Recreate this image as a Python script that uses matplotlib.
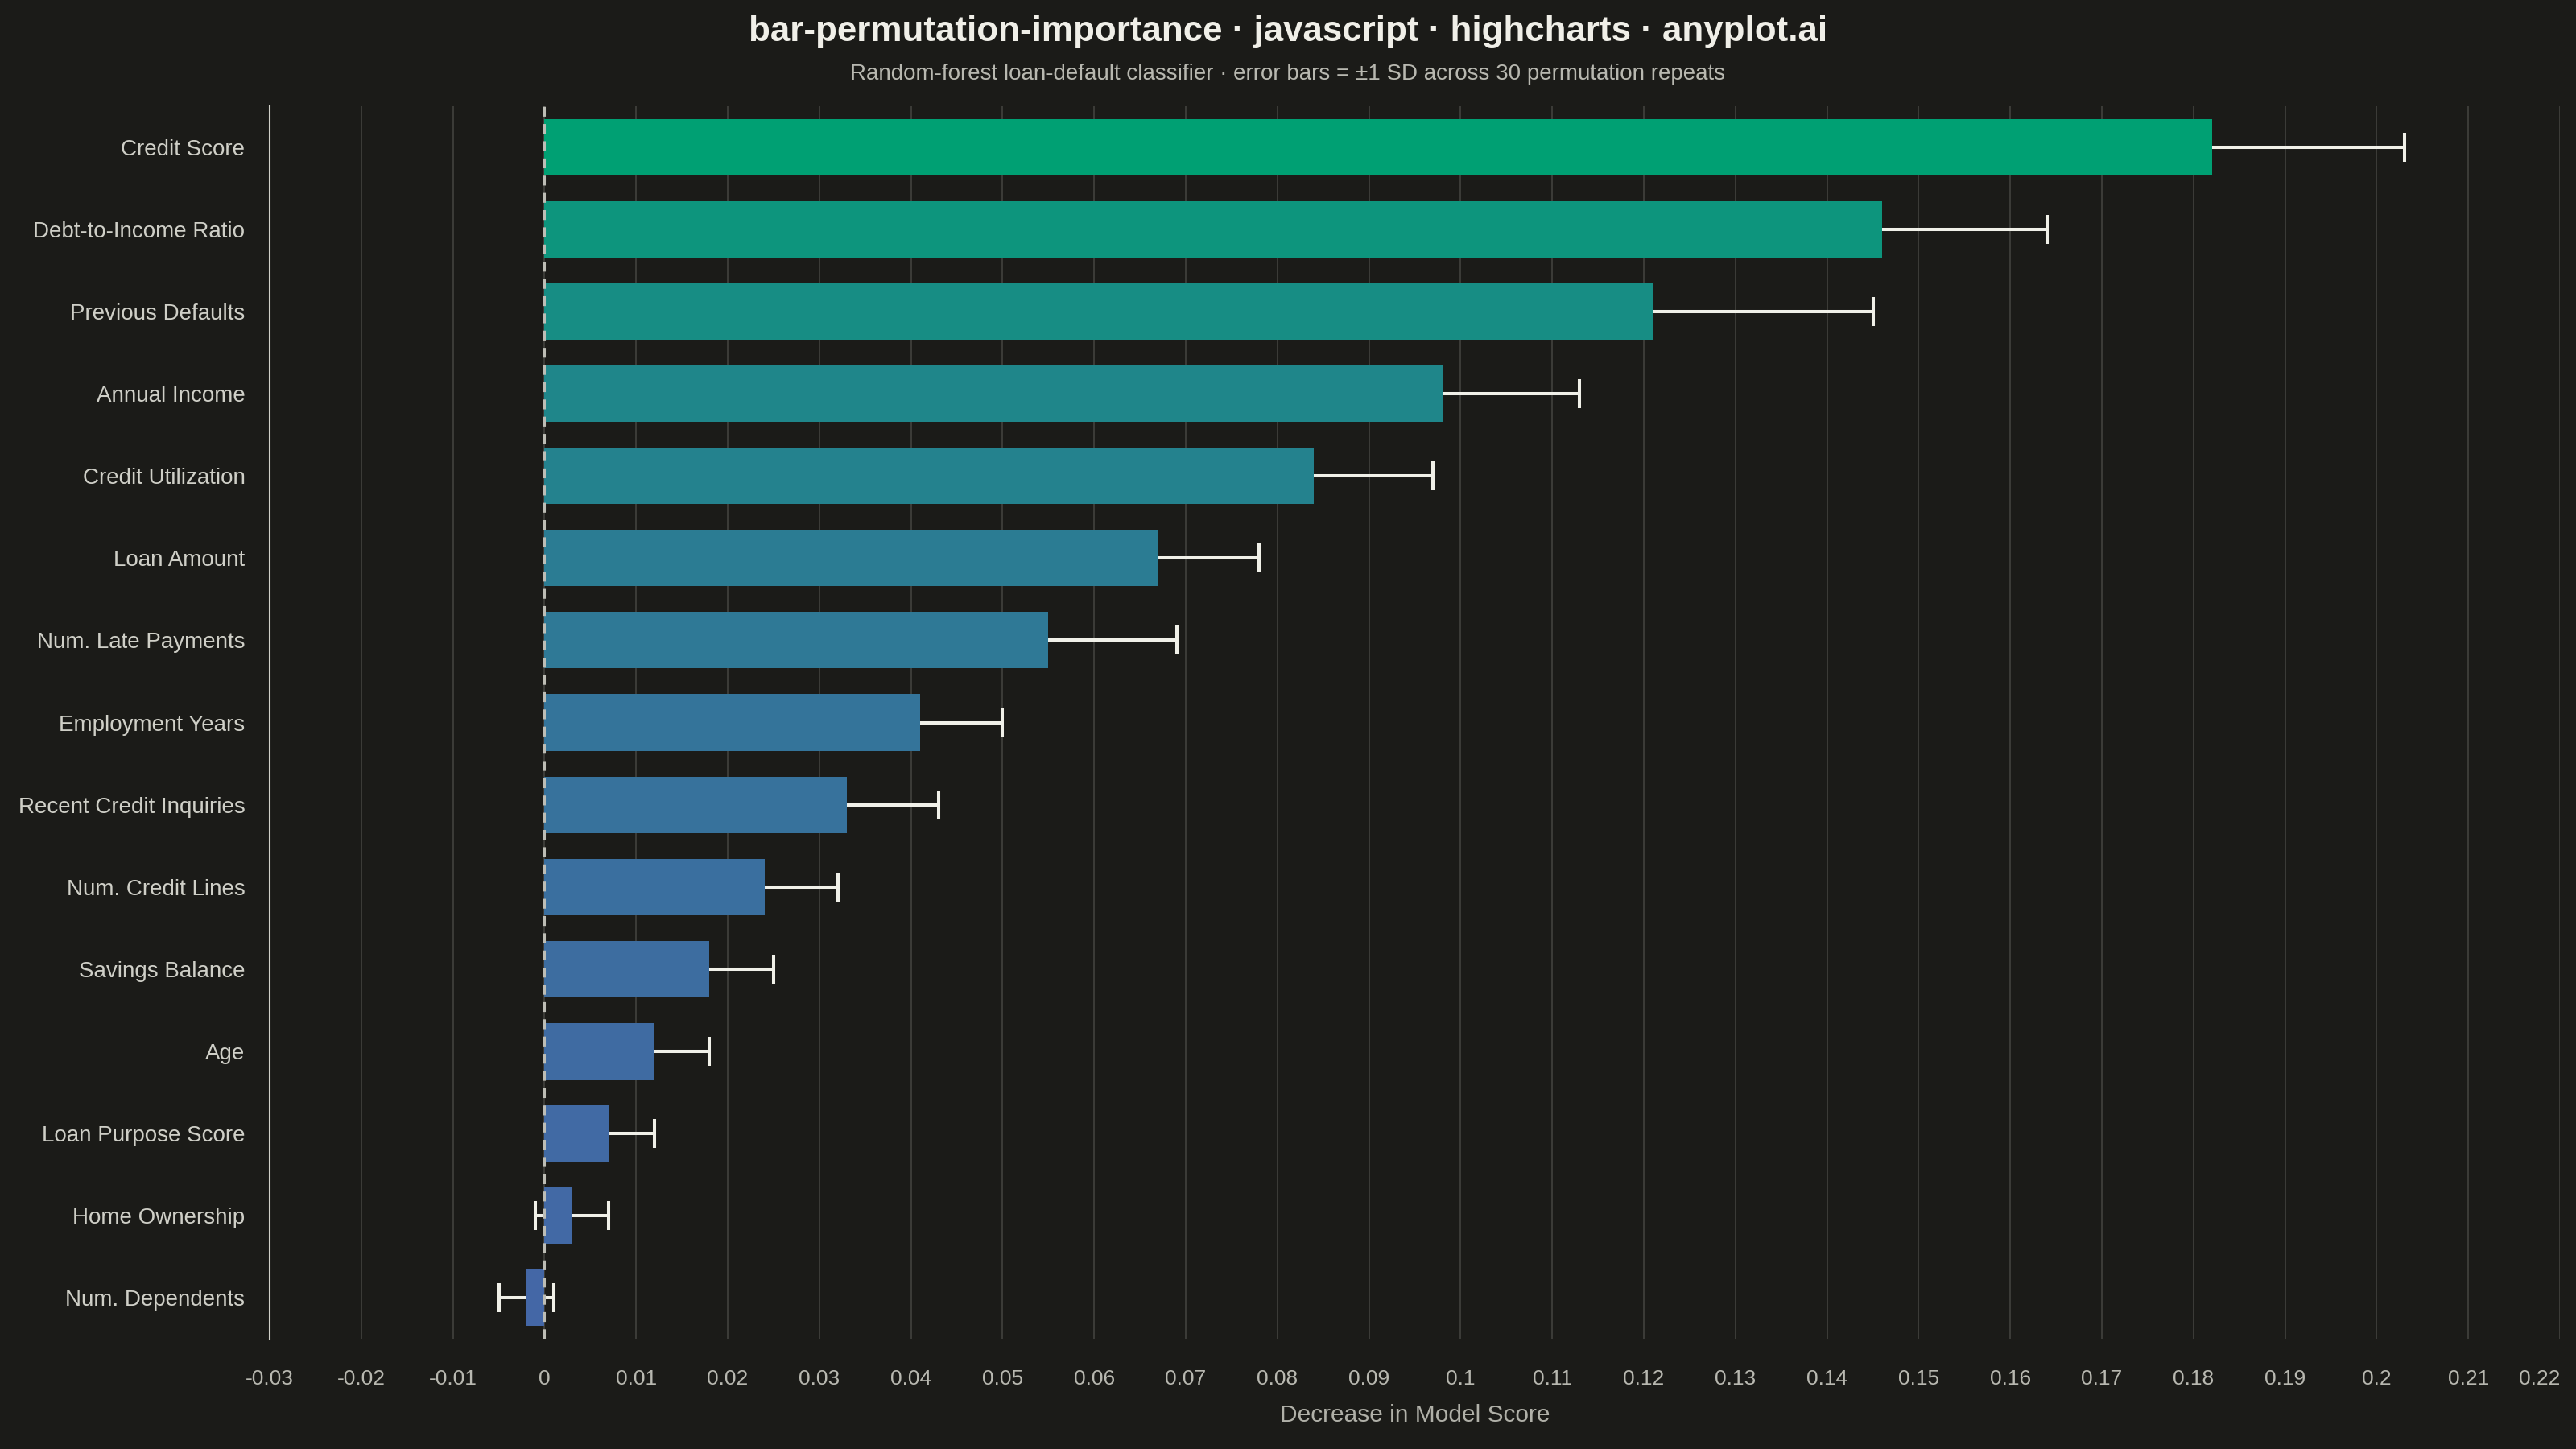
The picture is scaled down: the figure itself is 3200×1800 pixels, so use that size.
import matplotlib.pyplot as plt
import numpy as np

features = ['Credit Score', 'Debt-to-Income Ratio', 'Previous Defaults', 'Annual Income',
            'Credit Utilization', 'Loan Amount', 'Num. Late Payments', 'Employment Years',
            'Recent Credit Inquiries', 'Num. Credit Lines', 'Savings Balance', 'Age',
            'Loan Purpose Score', 'Home Ownership', 'Num. Dependents']
importance = [0.182, 0.146, 0.121, 0.098, 0.084, 0.067, 0.055, 0.041,
              0.033, 0.024, 0.018, 0.012, 0.007, 0.003, -0.002]
importance_sd = [0.021, 0.018, 0.024, 0.015, 0.013, 0.011, 0.014, 0.009,
                 0.010, 0.008, 0.007, 0.006, 0.005, 0.004, 0.003]
xticks = [round(-0.03 + 0.01*i, 2) for i in range(26)]

BG = '#1b1b18'
plt.rcParams['font.family'] = ['Liberation Sans', 'DejaVu Sans']

#colour each bar by its value, green (high) -> blue (low)
c_hi = np.array([0, 160, 115]) / 255
c_lo = np.array([68, 103, 166]) / 255
vals = np.array(importance)
t = (vals.max() - vals) / (vals.max() - vals.min())
colors = [tuple(c_hi + (c_lo - c_hi)*ti) for ti in t]

fig = plt.figure(figsize=(32, 18), dpi=100, facecolor=BG)
ax = fig.add_axes([335/3200, 1-1663/1800, (3180-335)/3200, (1663-132)/1800])
ax.set_facecolor(BG)

y = np.arange(len(features))

#------------ error bars (behind bars) -----------------
ax.errorbar(importance, y, xerr=importance_sd, fmt='none', ecolor='#f0f0e8',
            elinewidth=2.9, capsize=13, capthick=2.9, zorder=2)

#------------ bars -----------------
ax.barh(y, importance, height=0.686, color=colors, zorder=3)

#------------ zero line -----------------
ax.axvline(0, color='#bdbdb5', lw=2.2, ls=(0, (4, 3)), zorder=4)

ax.set_ylim(len(features)-0.5, -0.5)
ax.set_xlim(-0.03, 0.22)
ax.set_yticks(y)
ax.set_yticklabels(features, fontsize=20, color='#cfcfc7')
ax.set_xticks(xticks)
ax.set_xticklabels([f'{v:g}' for v in xticks], fontsize=19, color='#b8b8b0')
ax.get_xticklabels()[-1].set_horizontalalignment('right')
ax.tick_params(axis='y', length=0, pad=22)
ax.tick_params(axis='x', length=0, pad=27)

ax.grid(axis='x', color='#3c3c38', lw=1.4, zorder=0)
ax.set_axisbelow(True)
for s in ['top', 'right', 'bottom']:
    ax.spines[s].set_visible(False)
ax.spines['left'].set_color('#d0d0c8')
ax.spines['left'].set_linewidth(1.5)

ax.set_xlabel('Decrease in Model Score', fontsize=21.5, color='#b0b0a8', labelpad=14)

fig.text(0.5, 1-39/1800, 'bar-permutation-importance \u00b7 javascript \u00b7 highcharts \u00b7 anyplot.ai',
         ha='center', va='center', fontsize=31.6, fontweight='bold', color='#f0efe8')
fig.text(0.5, 1-92/1800, 'Random-forest loan-default classifier \u00b7 error bars = \u00b11 SD across 30 permutation repeats',
         ha='center', va='center', fontsize=20, color='#b8b8b0')

fig.savefig('out.png', dpi=100, facecolor=BG)
